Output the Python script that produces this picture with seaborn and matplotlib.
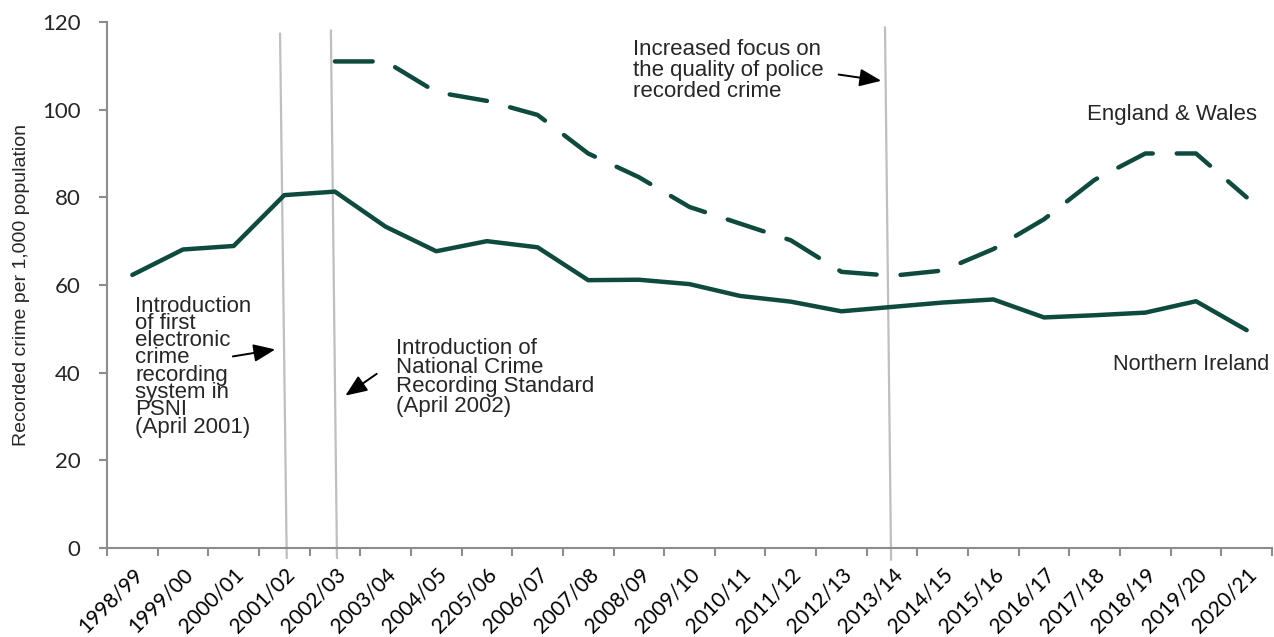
import numpy as np
import pandas as pd
import matplotlib
matplotlib.use("Agg")
import matplotlib.pyplot as plt
import seaborn as sns

# data
years = ["1998/99", "1999/00", "2000/01", "2001/02", "2002/03", "2003/04", "2004/05",
         "2205/06", "2006/07", "2007/08", "2008/09", "2009/10", "2010/11", "2011/12",
         "2012/13", "2013/14", "2014/15", "2015/16", "2016/17", "2017/18", "2018/19",
         "2019/20", "2020/21"]
northern_ireland = [62.3, 68.1, 68.9, 80.5, 81.3, 73.3, 67.7, 70.0, 68.6, 61.1, 61.2,
                    60.2, 57.5, 56.2, 54.0, 55.0, 56.0, 56.7, 52.6, 53.1, 53.7, 56.3, 49.7]
england_wales = [np.nan, np.nan, np.nan, np.nan, 111.0, 111.0, 104.0, 102.0, 98.8, 90.0,
                 84.6, 77.8, 74.0, 70.2, 63.0, 62.1, 63.3, 68.2, 75.0, 84.0, 90.0, 90.0, 80.0]
series_names = ["Northern Ireland", "England & Wales"]
y_ticks = [0, 20, 40, 60, 80, 100, 120]

line_col = "#0E4A3E"
grey = "#BFBFBF"
axis_grey = "#8C8C8C"

df = pd.DataFrame({"pos": list(range(len(years))) * 2,
                   "value": northern_ireland + england_wales,
                   "series": [series_names[0]] * len(years) + [series_names[1]] * len(years)})
df = df.dropna()

sns.set_theme(style="white")
plt.rcParams["font.family"] = ["Liberation Sans", "DejaVu Sans"]

fig = plt.figure(figsize=(12.74, 6.37), dpi=100)
ax = fig.add_axes([0.084, 0.1397, 0.9144, 0.8258])

sns.lineplot(data=df, x="pos", y="value", hue="series", style="series",
             palette={series_names[0]: line_col, series_names[1]: line_col},
             dashes={series_names[0]: "", series_names[1]: (8.5, 5.4)},
             linewidth=3.2, legend=False, ax=ax,
             solid_capstyle="round", dash_capstyle="round", solid_joinstyle="round")

# the three marker lines (slightly slanted as in the original)
ax.plot([2.916, 3.048], [117.4, -2.3], color=grey, lw=1.6, clip_on=False, zorder=1)
ax.plot([3.92, 4.04], [118.1, -2.3], color=grey, lw=1.6, clip_on=False, zorder=1)
ax.plot([14.86, 14.98], [118.8, -2.7], color=grey, lw=1.6, clip_on=False, zorder=1)

ax.set_xlim(-0.5, len(years) - 0.5)
ax.set_ylim(0, 120)
ax.set_yticks(y_ticks)
ax.set_yticklabels([str(v) for v in y_ticks], fontfamily="Lato", fontsize=16)

ax.set_xticks(np.arange(-0.5, len(years), 1))
ax.set_xticklabels([])
ax.set_xticks(np.arange(len(years)), minor=True)
ax.set_xticklabels(years, minor=True, rotation=45, ha="right", rotation_mode="anchor",
                   fontfamily="Lato", fontsize=15)
ax.tick_params(axis="x", which="major", length=5.5, width=1.5, color=axis_grey, direction="out", bottom=True)
ax.tick_params(axis="x", which="minor", length=0, pad=12, colors="black")
ax.tick_params(axis="y", length=6, width=1.5, color=axis_grey, direction="out", left=True, pad=13)

for side in ["top", "right"]:
    ax.spines[side].set_visible(False)
for side in ["left", "bottom"]:
    ax.spines[side].set_color(axis_grey)
    ax.spines[side].set_linewidth(1.5)

ax.set_xlabel("")
ax.set_ylabel("Recorded crime per 1,000 population", fontsize=14, labelpad=9)

# annotations
arrow = dict(arrowstyle="-|>,head_length=1.1,head_width=0.45", color="black", lw=1.4)
ax.text(0.053, 57.6, "Introduction\nof first\nelectronic\ncrime\nrecording\nsystem in\nPSNI\n(April 2001)",
        fontsize=16, va="top", ha="left", linespacing=0.77)
ax.annotate("", xy=(2.876, 45.4), xytext=(1.93, 43.6), arrowprops=arrow)
ax.text(5.21, 48.0, "Introduction of\nNational Crime\nRecording Standard\n(April 2002)",
        fontsize=16, va="top", ha="left", linespacing=0.9)
ax.annotate("", xy=(4.16, 34.4), xytext=(4.87, 40.1), arrowprops=arrow)
ax.text(9.88, 116.2, "Increased focus on\nthe quality of police\nrecorded crime",
        fontsize=16, va="top", ha="left", linespacing=1.02)
ax.annotate("", xy=(14.84, 106.5), xytext=(13.89, 108.1), arrowprops=arrow)

ax.text(18.85, 98.9, series_names[1], fontsize=16, va="center", ha="left")
ax.text(19.36, 41.9, series_names[0], fontsize=15.6, va="center", ha="left")

fig.savefig("out.png", dpi=100)
